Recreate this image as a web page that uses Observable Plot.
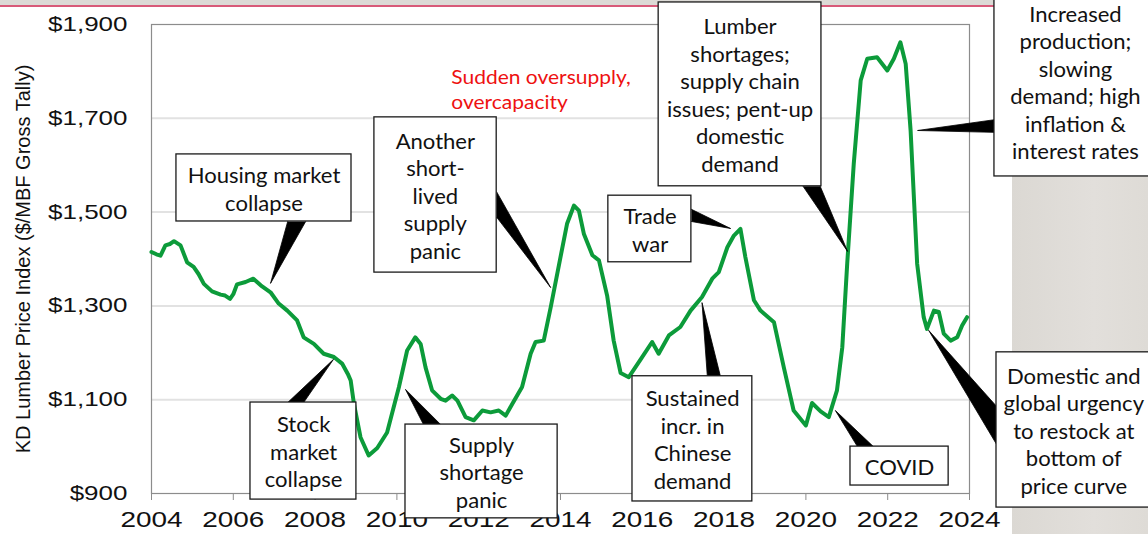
<!DOCTYPE html>
<html>
<head>
<meta charset="utf-8">
<script src="https://cdn.jsdelivr.net/npm/d3@7"></script>
<script src="https://cdn.jsdelivr.net/npm/@observablehq/plot@0.6"></script>
<style>
  html, body { margin: 0; padding: 0; background: #fff; }
  #wrap { position: relative; width: 1148px; height: 534px; overflow: hidden; background: #fff; }
  #topstrip { position: absolute; left: 0; top: 0; width: 1148px; height: 5px; background: #dcdad6; }
  #topline { position: absolute; left: 0; top: 5px; width: 1148px; height: 2px; background: #d85a79; }
  #sidepanel { position: absolute; left: 1012px; top: 0; width: 136px; height: 534px;
               background: linear-gradient(90deg, #dbd8d3, #e2dfdb 60%, #dedbd6); }
  #chart { position: absolute; left: 0; top: 0; }
</style>
</head>
<body>
<div id="wrap">
  <div id="topstrip"></div>
  <div id="topline"></div>
  <div id="sidepanel"></div>
  <div id="chart"></div>
</div>
<script>
// ---- Series: KD lumber price index ----
const years = [
  2004.00, 2004.12, 2004.22, 2004.34, 2004.45, 2004.55, 2004.71, 2004.87, 2005.03, 2005.15,
  2005.28, 2005.48, 2005.69, 2005.80, 2005.92, 2006.00, 2006.09, 2006.30, 2006.49, 2006.67,
  2006.91, 2007.11, 2007.32, 2007.56, 2007.72, 2007.97, 2008.21, 2008.46, 2008.66, 2008.80,
  2008.87, 2008.95, 2009.11, 2009.31, 2009.52, 2009.76, 2010.05, 2010.25, 2010.45, 2010.58,
  2010.70, 2010.86, 2011.07, 2011.19, 2011.35, 2011.48, 2011.68, 2011.88, 2012.09, 2012.29,
  2012.49, 2012.66, 2012.82, 2013.06, 2013.27, 2013.39, 2013.59, 2013.76, 2014.00, 2014.16,
  2014.33, 2014.45, 2014.57, 2014.78, 2014.94, 2015.14, 2015.30, 2015.47, 2015.67, 2015.96,
  2016.24, 2016.40, 2016.65, 2016.93, 2017.18, 2017.46, 2017.71, 2017.87, 2018.08, 2018.24,
  2018.40, 2018.52, 2018.73, 2018.89, 2019.22, 2019.46, 2019.70, 2019.87, 2020.00, 2020.15,
  2020.36, 2020.56, 2020.76, 2020.89, 2021.01, 2021.17, 2021.34, 2021.50, 2021.74, 2021.99,
  2022.15, 2022.31, 2022.44, 2022.56, 2022.72, 2022.88, 2022.96, 2023.13, 2023.25, 2023.37,
  2023.54, 2023.70, 2023.82, 2023.94
];
const prices = [
  1415, 1410, 1407, 1429, 1432, 1438, 1429, 1393, 1383, 1368,
  1347, 1331, 1324, 1322, 1315, 1325, 1346, 1351, 1358, 1344,
  1329, 1305, 1290, 1269, 1233, 1219, 1198, 1191, 1177, 1155,
  1141, 1091, 1020, 981, 997, 1030, 1127, 1205, 1233, 1219,
  1169, 1120, 1102, 1098, 1109, 1098, 1063, 1056, 1077, 1073,
  1077, 1066, 1091, 1127, 1198, 1223, 1226, 1297, 1404, 1475,
  1514, 1503, 1454, 1408, 1397, 1322, 1226, 1157, 1148, 1186,
  1223, 1198, 1237, 1255, 1290, 1319, 1358, 1372, 1425, 1450,
  1464, 1404, 1312, 1290, 1265, 1169, 1077, 1059, 1045, 1093,
  1075, 1063, 1120, 1212, 1390, 1603, 1781, 1827, 1830, 1802,
  1827, 1862, 1816, 1674, 1390, 1276, 1251, 1290, 1287, 1241,
  1226, 1233, 1258, 1276
];

// ---- Axis ticks ----
const xTicks = [2004, 2006, 2008, 2010, 2012, 2014, 2016, 2018, 2020, 2022, 2024];
const yTicks = [900, 1100, 1300, 1500, 1700, 1900];
const yTitle = "KD Lumber Price Index ($/MBF Gross Tally)";

// ---- Annotations (in data units: year, $) ----
const annLabels = [
  "Housing market\ncollapse",
  "Stock\nmarket\ncollapse",
  "Another\nshort-\nlived\nsupply\npanic",
  "Supply\nshortage\npanic",
  "Trade\nwar",
  "Sustained\nincr. in\nChinese\ndemand",
  "Lumber\nshortages;\nsupply chain\nissues; pent-up\ndomestic\ndemand",
  "Increased\nproduction;\nslowing\ndemand; high\ninflation &\ninterest rates",
  "COVID",
  "Domestic and\nglobal urgency\nto restock at\nbottom of\nprice curve"
];
const annBoxX1 = [2004.61, 2006.42, 2009.45, 2010.21, 2015.17, 2015.76, 2016.40, 2024.61, 2021.09, 2024.66];
const annBoxX2 = [2008.89, 2009.01, 2012.44, 2013.93, 2017.20, 2018.69, 2020.38, 2028.57, 2023.49, 2028.57];
const annBoxTop = [1623, 1094, 1702, 1047, 1535, 1150, 1947, 1968, 1000, 1201];
const annBoxBottom = [1480, 887, 1371, 847, 1393, 883, 1555, 1576, 917, 870];
const annTextX = [2006.75, 2007.72, 2010.94, 2012.07, 2016.19, 2017.23, 2018.39, 2026.59, 2022.29, 2026.55];
const annTextY = [1551, 991, 1537, 947, 1464, 1017, 1751, 1778, 959, 1035];
const annTipX = [2006.91, 2008.45, 2013.76, 2010.21, 2018.16, 2017.46, 2021.02, 2022.73, 2020.72, 2023.00];
const annTipY = [1348, 1186, 1339, 1122, 1465, 1307, 1416, 1674, 1077, 1248];
const annBaseX1 = [2007.33, 2007.33, 2012.44, 2010.65, 2017.20, 2017.59, 2019.93, 2024.61, 2021.26, 2024.66];
const annBaseY1 = [1480, 1094, 1543, 1047, 1506, 1150, 1555, 1697, 1000, 1086];
const annBaseX2 = [2007.77, 2007.72, 2012.44, 2011.07, 2017.20, 2017.91, 2020.35, 2024.61, 2021.65, 2024.66];
const annBaseY2 = [1480, 1094, 1489, 1047, 1480, 1150, 1555, 1670, 1000, 1005];

const redNote = "Sudden oversupply,\novercapacity";
const redNoteX = 2011.33;
const redNoteY = 1763;

// ---- Build tables ----
const series = years.map((y, i) => ({year: y, price: prices[i]}));
const boxes = annLabels.map((t, i) => ({
  label: t, x1: annBoxX1[i], x2: annBoxX2[i], y1: annBoxTop[i], y2: annBoxBottom[i],
  tx: annTextX[i], ty: annTextY[i]
}));
const wedges = [];
annLabels.forEach((t, i) => {
  wedges.push({id: i, x: annBaseX1[i], y: annBaseY1[i]});
  wedges.push({id: i, x: annTipX[i], y: annTipY[i]});
  wedges.push({id: i, x: annBaseX2[i], y: annBaseY2[i]});
});

const annFont = "Lato, 'Open Sans', sans-serif";
const axisFont = "'Liberation Sans', Arial, sans-serif";

const chart = Plot.plot({
  width: 1148,
  height: 534,
  marginLeft: 151,
  marginRight: 179,
  marginTop: 24,
  marginBottom: 41,
  style: {background: "transparent", overflow: "visible"},
  x: {type: "linear", domain: [2004, 2024]},
  y: {type: "linear", domain: [900, 1900]},
  marks: [
    Plot.gridY([1100, 1300, 1500, 1700], {stroke: "#e2e2e2", strokeOpacity: 1, strokeWidth: 2}),
    Plot.frame({stroke: "#8c8c8c", strokeWidth: 1.2}),
    Plot.axisX(xTicks, {
      tickSize: 7, tickPadding: 11, tickFormat: d => String(d),
      fontSize: 22, fontFamily: axisFont, fontWeight: "normal", fill: "#111", stroke: "#8c8c8c",
      label: null
    }),
    Plot.axisY(yTicks, {
      tickSize: 0, tickPadding: 24, tickFormat: d => "$" + d3.format(",")(d),
      fontSize: 20, fontFamily: axisFont, fontWeight: "normal", fill: "#111",
      label: yTitle, labelAnchor: "center", labelOffset: 136, labelArrow: "none"
    }),
    Plot.line(series, {x: "year", y: "price", stroke: "#0c9b3a", strokeWidth: 4, curve: "linear", strokeLinejoin: "round"}),
    Plot.line(wedges, {x: "x", y: "y", z: "id", fill: "#000", stroke: "#000", strokeWidth: 0.8, curve: "linear"}),
    Plot.rect(boxes, {x1: "x1", x2: "x2", y1: "y1", y2: "y2", fill: "#fff", stroke: "#1a1a1a", strokeWidth: 1.3, inset: 0}),
    Plot.text(boxes, {x: "tx", y: "ty", text: "label", fontSize: 21, fontFamily: annFont, fill: "#111", lineHeight: 1.31, lineAnchor: "middle"}),
    Plot.text([redNote], {x: () => redNoteX, y: () => redNoteY, text: d => d, textAnchor: "start", lineAnchor: "middle", fontSize: 20, lineHeight: 1.25, fontFamily: annFont, fill: "#ee1111"})
  ]
});

// horizontally stretch the texts like the original picture
function stretch(sel, k) {
  chart.querySelectorAll(sel).forEach(t => {
    const tr = t.getAttribute("transform") || "";
    t.setAttribute("transform", tr + ` scale(${k},1)`);
  });
}
stretch('g[aria-label="y-axis tick label"] text', 1.3);
stretch('g[aria-label="x-axis tick label"] text', 1.27);
stretch('g[aria-label="text"] text', 1.05);

document.getElementById("chart").appendChild(chart);
</script>
</body>
</html>
